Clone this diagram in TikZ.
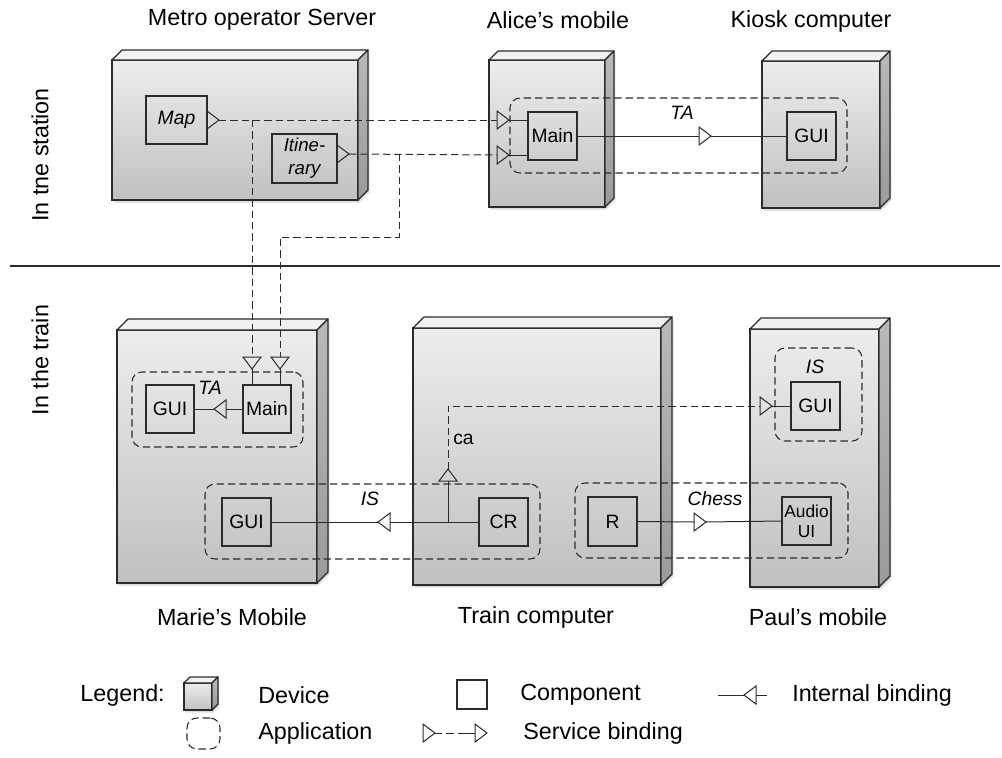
\documentclass[tikz,border=0pt]{standalone}
\usepackage{fontspec}
\setmainfont{Liberation Sans}
\usetikzlibrary{calc,fit}

\definecolor{ink}{HTML}{2B2B2B}
\definecolor{devtopc}{HTML}{F1F1F1}
\definecolor{devfronthi}{HTML}{EDEDED}
\definecolor{devfrontlo}{HTML}{C0C0C0}
\definecolor{devsidehi}{HTML}{B9B9B9}
\definecolor{devsidelo}{HTML}{9A9A9A}

% 3D device: soft shadow, front face node, then top and side faces
\newcommand\devicebox[6]{%
  \foreach \s in {1,2,3} {
    \fill[black, opacity=0.07]
      ({#2+\s*0.5},{#3+\s}) -- ({#2+#6+\s*0.5},{#3-#6+\s}) -- ({#4+#6+\s*0.5},{#3-#6+\s})
      -- ({#4+#6+\s*0.5},{#5-#6+\s}) -- ({#4+\s*0.5},{#5+\s}) -- ({#2+\s*0.5},{#5+\s}) -- cycle;
  }
  \node[devfront, fit={(#2,#3) (#4,#5)}] (#1) {};
  \draw[devedge, fill=devtopc] (#2,#3) -- ({#2+#6},{#3-#6}) -- ({#4+#6},{#3-#6}) -- (#4,#3) -- cycle;
  \shade[top color=devsidehi, bottom color=devsidelo] (#4,#3) -- ({#4+#6},{#3-#6}) -- ({#4+#6},{#5-#6}) -- (#4,#5) -- cycle;
  \draw[devedge] (#4,#3) -- ({#4+#6},{#3-#6}) -- ({#4+#6},{#5-#6}) -- (#4,#5) -- cycle;
}

% open triangular port: name, base x, base y, direction dx, dy
\newcommand\port[5]{%
  \coordinate (#1-b) at (#2,#3);
  \coordinate (#1-t) at ({#2+12*(#4)},{#3+12*(#5)});
  \draw[porttri] ({#2-9*(#5)},{#3+9*(#4)}) -- (#1-t) -- ({#2+9*(#5)},{#3-9*(#4)}) -- cycle;
}

\begin{document}
\begin{tikzpicture}[x=0.75pt,y=-0.75pt,
  devfront/.style={draw=ink, line width=0.9pt, inner sep=0pt,
    top color=devfronthi, bottom color=devfrontlo},
  devedge/.style={draw=ink, line width=0.9pt, line join=round},
  comp/.style={draw=ink, line width=0.8pt, inner sep=0pt, align=center,
    font=\fontsize{14.5}{17}\selectfont},
  compthick/.style={comp, line width=1.5pt, font=\fontsize{14.5}{17.5}\selectfont\itshape},
  app/.style={draw=ink, line width=0.8pt, dash pattern=on 5.5pt off 3pt,
    rounded corners=7.5pt, inner sep=0pt},
  svc/.style={draw=ink, line width=0.75pt, dash pattern=on 5.5pt off 3pt},
  bind/.style={draw=ink, line width=0.75pt},
  porttri/.style={draw=ink, line width=0.75pt, line join=miter},
  title/.style={font=\fontsize{17.5}{20}\selectfont, text=black, inner sep=0pt},
  lbl/.style={font=\fontsize{14.5}{17}\selectfont\itshape, inner sep=0pt},
  plainlbl/.style={font=\fontsize{14.5}{17}\selectfont, inner sep=0pt},
]
\useasboundingbox (0,0) rectangle (1002,757);

% ---- devices ----
\devicebox{server}{112}{60}{358}{200}{10}
\devicebox{alice}{489}{60}{605}{207}{9}
\devicebox{kiosk}{762}{61}{880}{208}{10}
\devicebox{marie}{117}{330}{317}{583}{11}
\devicebox{train}{413}{328}{661}{585}{11}
\devicebox{paul}{750}{329}{879}{587}{11}

% ---- device titles ----
\node[title] (tServer) at (262,20) {Metro operator Server};
\node[title] (tAlice)  at (558,20) {Alice’s mobile};
\node[title] (tKiosk)  at (811,21) {Kiosk computer};
\node[title] (tMarie)  at (232,617) {Marie’s Mobile};
\node[title] (tTrain)  at (536,617) {Train computer};
\node[title] (tPaul)   at (818,617) {Paul’s mobile};

% ---- zones ----
\node[title, rotate=90] (zStation) at (40,155) {In tne station};
\node[title, rotate=90] (zTrain)   at (40,360) {In the train};
\coordinate (sepL) at (10,266);
\coordinate (sepR) at (1000,266);
\draw[draw=ink, line width=0.8pt] (sepL) -- (sepR);

% ---- applications ----
\node[app, fit={(510,98) (847,173)}] (appTA) {};
\node[app, fit={(132,372) (303,447)}] (appTA2) {};
\node[app, fit={(205,484) (540,559)}] (appIS) {};
\node[app, fit={(775,348) (862,441)}] (appIS2) {};
\node[app, fit={(575,483) (848,558)}] (appChess) {};

% ---- components ----
\node[compthick, fit={(146,96) (207,144)}] (map) {};
\node[font=\fontsize{14.5}{17}\selectfont\itshape] at (map.center) {Map};
\node[compthick, fit={(272,134) (337,183)}] (itin) {};
\node[font=\fontsize{14}{17.5}\selectfont\itshape, align=center] at (itin.center) {Itine-\\rary};

\node[comp, fit={(528,112) (577,160)}] (aMain) {};
\node[plainlbl] at (aMain.center) {Main};
\node[comp, fit={(787,112) (836,160)}] (kGUI) {};
\node[plainlbl] at (kGUI.center) {GUI};

\node[comp, fit={(243,385) (291,433)}] (mMain) {};
\node[plainlbl] at (mMain.center) {Main};
\node[comp, fit={(146,385) (194,433)}] (mGUI) {};
\node[plainlbl] at (mGUI.center) {GUI};
\node[comp, fit={(222,498) (271,546)}] (mGUI2) {};
\node[plainlbl] at (mGUI2.center) {GUI};

\node[comp, fit={(479,498) (528,546)}] (cr) {};
\node[plainlbl] at (cr.center) {CR};
\node[comp, fit={(588,497) (637,546)}] (r) {};
\node[plainlbl] at (r.center) {R};

\node[comp, fit={(791,382) (840,430)}] (pGUI) {};
\node[plainlbl] at (pGUI.center) {GUI};
\node[comp, fit={(782,497) (831,545)}] (pAudio) {};
\node[font=\fontsize{13}{15}\selectfont, align=center] at (pAudio.center) {Audio\\UI};

% ---- ports ----
\port{mapP}{207}{120}{1}{0}
\port{itinP}{337}{154}{1}{0}
\port{aP1}{497}{120}{1}{0}
\port{aP2}{497}{155}{1}{0}
\port{taP}{699}{136}{1}{0}
\port{mP1}{252}{357}{0}{1}
\port{mP2}{280}{357}{0}{1}
\port{mtaP}{226}{409}{-1}{0}
\port{isP}{390}{522}{-1}{0}
\port{caP}{448}{481}{0}{-1}
\port{pP}{760}{406}{1}{0}
\port{chP}{694}{522}{1}{0}

% ---- service bindings ----
\coordinate (itinBend) at (399,237);
\coordinate (caBend) at (448,406);
\draw[svc] (mapP-t) -- (aP1-b);
\draw[svc] (mapP-t -| mP1-b) -- (mP1-b);
\draw[svc] (itinP-t) -- (aP2-b);
\draw[svc] (itinP-t -| itinBend) -- (itinBend) -| (mP2-b);
\draw[svc] (caP-t) -- (caBend) -- (pP-b);

% ---- internal bindings ----
\draw[bind] (aP1-t) -- (aP1-t -| aMain.west);
\draw[bind] (aP2-t) -- (aP2-t -| aMain.west);
\draw[bind] (aMain.east) -- (taP-b);
\draw[bind] (taP-t) -- (kGUI.west);
\draw[bind] (mP1-t) -- (mP1-t |- mMain.north);
\draw[bind] (mP2-t) -- (mP2-t |- mMain.north);
\draw[bind] (mMain.west) -- (mtaP-b);
\draw[bind] (mtaP-t) -- (mGUI.east);
\draw[bind] (cr.west) -- (isP-b);
\draw[bind] (isP-t) -- (mGUI2.east);
\draw[bind] (caP-b) -- (caP-b |- cr.west);
\draw[bind] (pP-t) -- (pGUI.west);
\draw[bind] (r.east) -- (chP-b);
\draw[bind] (chP-t) -- (pAudio.west);

% ---- binding labels ----
\node[lbl] (lTA) at (682,113) {TA};
\node[lbl] (lTA2) at (210,388) {TA};
\node[lbl] (lIS) at (370,499) {IS};
\node[lbl] (lIS2) at (815,367) {IS};
\node[lbl] (lChess) at (715,499) {Chess};
\node[plainlbl, anchor=west] (lca) at (453,439) {ca};

% ---- legend ----
\node[title, anchor=east] (legTitle) at (165,695) {Legend:};
\devicebox{legDev}{184}{683}{212}{710}{6}
\node[title, anchor=west] (legDevT) at (258,695) {Device};
\node[comp, fit={(457,680) (487,709)}] (legComp) {};
\node[title, anchor=west] (legCompT) at (520,695) {Component};
\coordinate (ibA) at (718,695);
\coordinate (ibB) at (767,695);
\port{ibP}{756}{695}{-1}{0}
\draw[bind] (ibA) -- (ibP-t);
\draw[bind] (ibP-b) -- (ibB);
\node[title, anchor=west] (legIBT) at (792,695) {Internal binding};
\node[app, fit={(187,718) (220,749)}] (legApp) {};
\node[title, anchor=west] (legAppT) at (258,733) {Application};
\port{sbP1}{423}{733}{1}{0}
\port{sbP2}{475}{733}{1}{0}
\coordinate (sbMid) at (464,733);
\draw[svc] (sbP1-t) -- (sbMid);
\draw[bind] (sbMid) -- (sbP2-b);
\node[title, anchor=west] (legSBT) at (523,733) {Service binding};
\end{tikzpicture}
\end{document}
